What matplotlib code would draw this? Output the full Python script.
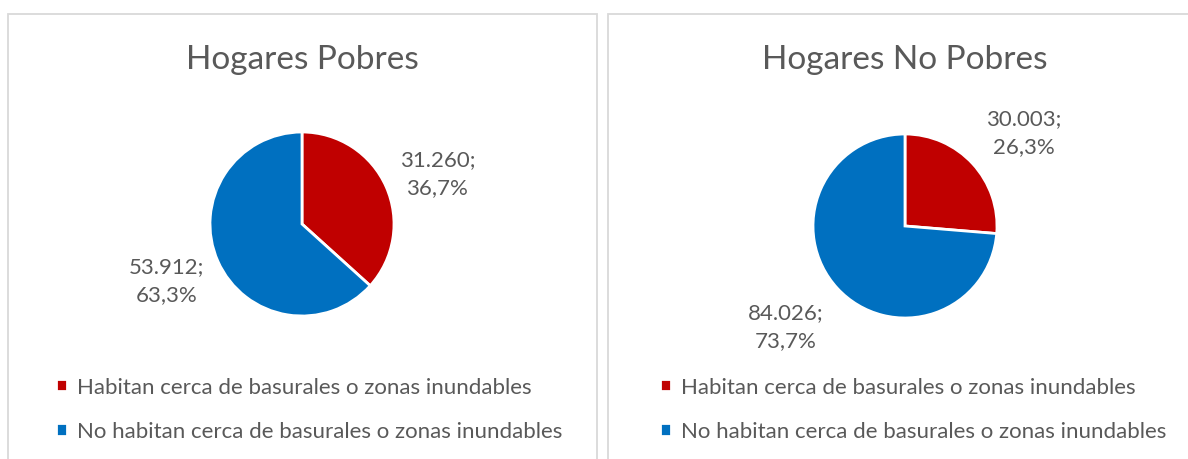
import numpy as np
import matplotlib
matplotlib.use('Agg')
import matplotlib.pyplot as plt
from matplotlib.patches import Rectangle

plt.rcParams['font.family'] = ['Lato', 'DejaVu Sans']

# data
TITLES = ['Hogares Pobres', 'Hogares No Pobres']
CATEGORIES = ['Habitan cerca de basurales o zonas inundables',
              'No habitan cerca de basurales o zonas inundables']
POBRES = [31260, 53912]
NO_POBRES = [30003, 84026]
COLORS = ['#C00000', '#0070C0']
TEXT = '#595959'

W, H = 1188, 460
fig = plt.figure(figsize=(W / 100, H / 100), dpi=100)


def fmt_label(v, total):
    num = '{:,}'.format(v).replace(',', '.')
    pct = '{:.1f}%'.format(100 * v / total).replace('.', ',')
    return num + ';\n' + pct


# panel borders (pixel coords, top-down)
for x0, x1 in [(8, 597), (608, 1200)]:
    fig.patches.append(Rectangle((x0 / W, -0.1), (x1 - x0) / W, 1.1 - 15 / H,
                                 transform=fig.transFigure, fill=False,
                                 edgecolor='#D9D9D9', linewidth=1.3))

panels = [
    # title x, title y, pie center, radius, label distance, legend x
    (TITLES[0], POBRES, 302, 60, (302, 225), 92, 1.61, 56),
    (TITLES[1], NO_POBRES, 905, 60, (905, 227), 92, 1.76, 660),
]

for title, vals, tx, ty, (cx, cy), r, ldist, lx in panels:
    fig.text(tx / W, 1 - ty / H, title, ha='center', va='center',
             fontsize=24, color=TEXT)
    ax = fig.add_axes([(cx - r) / W, 1 - (cy + r) / H, 2 * r / W, 2 * r / H])
    wedges, _ = ax.pie(vals, colors=COLORS, startangle=90, counterclock=False,
                       wedgeprops={'linewidth': 2, 'edgecolor': 'white'})
    ax.set_xlim(-1, 1)
    ax.set_ylim(-1, 1)
    ax.axis('off')
    total = sum(vals)
    for w, v in zip(wedges, vals):
        ang = np.deg2rad((w.theta1 + w.theta2) / 2)
        ax.text(ldist * np.cos(ang), 0.885 * ldist * np.sin(ang) - 0.03,
                fmt_label(v, total), ha='center', va='center', fontsize=16,
                color=TEXT, linespacing=1.5)
    fig.legend(wedges, CATEGORIES, loc='upper left',
               bbox_to_anchor=(lx / W, 1 - 378 / H), frameon=False,
               fontsize=16, labelcolor=TEXT, handlelength=0.5,
               handleheight=0.5, handletextpad=0.45, labelspacing=1.1,
               borderpad=0, borderaxespad=0)

fig.savefig('out.png', dpi=100)
